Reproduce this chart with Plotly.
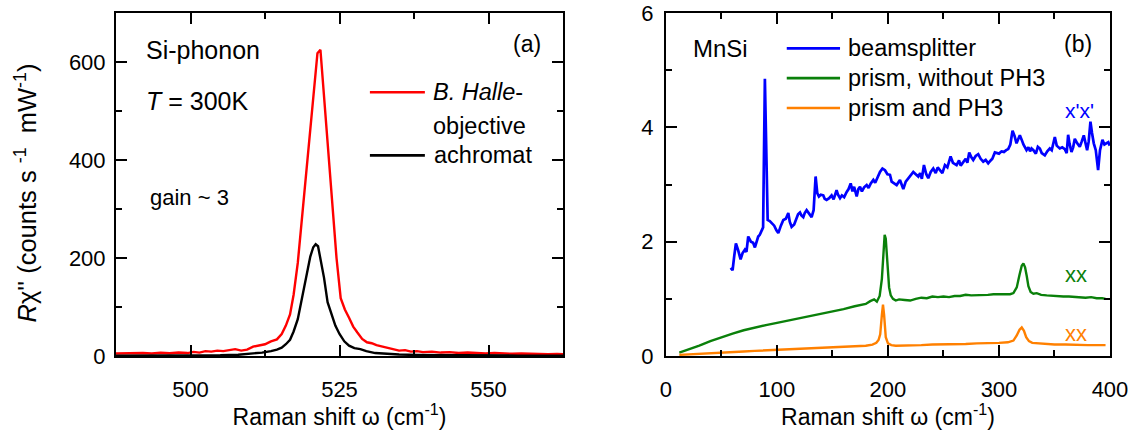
import plotly.graph_objects as go

# ---------------- Panel (a): Si phonon ----------------
halle_x = [487.5, 489, 490.5, 492, 493.5, 495, 496.5, 498, 499.5, 500.5, 501.5, 502.5, 503.5,
           504.5, 505.5, 506.5, 507.5, 508.5, 509.5, 510.5, 511.5, 512.5, 513.5, 514.5, 515.3,
           516, 516.7, 517.3, 518, 518.7, 519.4, 520.1, 520.8, 521.3, 521.8, 522.4, 523.1,
           523.8, 524.5, 525.2, 525.9, 526.6, 527.3, 528, 528.8, 529.6, 530.4, 531.2, 532, 533,
           534, 535, 536, 537, 538, 539, 540.5, 542, 543.5, 545, 546.5, 548, 549.5, 551, 552.5,
           554, 555.5, 557, 558.5, 560, 561.5, 562.5]
halle_y = [5, 5.5, 4.5, 6, 5, 6.5, 5.5, 7, 6, 8.5, 7, 10, 9,
           11, 10, 12, 14, 11, 13, 19, 21, 24, 30, 34, 45,
           62, 85, 125, 190, 280, 370, 460, 560, 618, 625, 530, 420,
           310, 200, 118, 95, 78, 60, 48, 35, 28, 26, 22, 20, 17,
           14, 11, 12, 9, 10, 8, 9, 7, 8, 6, 7, 6, 5, 6, 5,
           4.5, 5, 4, 4.5, 3.5, 4, 3.5]

achro_x = [487.5, 495, 500, 505, 508, 510, 512, 513.5, 514.5, 515.3, 516, 516.7, 517.3, 518,
           518.7, 519.4, 520.1, 520.6, 521, 521.4, 521.8, 522.4, 523, 523.6, 524.3, 525, 525.8,
           526.6, 527.5, 528.5, 529.5, 531, 533, 535, 538, 542, 548, 555, 562.5]
achro_y = [0.5, 0.5, 1, 1.5, 2.5, 4, 7, 10, 13, 17, 24, 33, 50, 75,
           118, 165, 203, 222, 228, 224, 200, 160, 110, 88, 62, 45, 30,
           21, 16, 14, 10, 6, 4, 3, 2, 1.5, 1, 0.8, 0.5]

# ---------------- Panel (b): MnSi ----------------
beam_x = [58.3, 60, 61.5, 63, 65, 67.2, 69, 71.1, 72.5, 74.1, 76.5, 78.5, 80.1, 82, 83.1, 84.5,
          86.1, 87.5, 89.1, 90.5, 91.6, 93.5, 95.2, 97.5, 99.5, 101.2, 103.5, 105.7, 108, 110.2,
          111.5, 113.2, 115.5, 117.7, 119, 120.7, 122, 123.7, 125, 126.7, 129, 131.2, 133, 134.8,
          136.3, 137.8, 139.5, 141.7, 143, 144.7, 147, 149.2, 151, 153.7, 155, 156.8, 158.5,
          160.5, 162.8, 164.5, 166.4, 168, 169.5, 171.8, 173.3, 174.8, 176.5, 178.5, 180.8,
          182.5, 184.5, 186.8, 188.5, 190.5, 192.8, 195, 197.3, 199.5, 201.8, 203.3, 205.5,
          207.8, 210.8, 212.5, 213.8, 216, 218.3, 220.5, 222.8, 225, 227.3, 229, 230.5, 232.4,
          234.5, 236.3, 238.5, 240.8, 243, 244.8, 246.8, 249, 251.3, 253.5, 256.4, 258.5, 261.8,
          264, 265.5, 267.8, 270, 271.5, 273.2, 275, 276.8, 279, 281.3, 283.5, 285.8, 288,
          290.3, 292.5, 294, 296.3, 298, 300, 302.3, 304.5, 306.5, 308.3, 310.2, 312.2, 314,
          315.8, 317, 318.8, 320.5, 322, 324.8, 326.5, 328, 329.3, 331, 333.2, 335, 336.8,
          338.5, 341.3, 343.5, 345.8, 347.5, 349, 350.3, 352, 354.8, 357, 359.3, 361, 362.3,
          363.5, 365.3, 366.8, 368.3, 370.5, 372.8, 374.5, 376.4, 378, 379.4, 380.8, 382.4,
          383.8, 385.4, 387.2, 389.3, 391, 393.2, 395, 396.8, 398.5, 399.8]
beam_y = [1.54, 1.50, 1.75, 1.97, 1.85, 1.69, 1.80, 1.86, 1.82, 2.09, 2.00, 1.98, 1.90, 2.02, 2.09, 2.12,
          2.20, 2.25, 4.85, 3.20, 2.38, 2.36, 2.32, 2.28, 2.20, 2.15, 2.28, 2.38, 2.40, 2.50,
          2.35, 2.26, 2.30, 2.43, 2.48, 2.51, 2.46, 2.43, 2.50, 2.55, 2.48, 2.43, 2.55, 3.14,
          2.85, 2.79, 2.82, 2.81, 2.75, 2.73, 2.76, 2.81, 2.74, 2.90, 2.82, 2.76, 2.81,
          2.78, 2.87, 2.92, 3.02, 2.88, 2.96, 2.79, 2.92, 2.96, 2.88, 2.95, 2.99,
          2.94, 3.02, 3.08, 3.03, 3.12, 3.22, 3.28, 3.25, 3.18, 3.17, 3.05, 3.02,
          2.99, 3.08, 3.00, 2.92, 3.05, 3.11, 3.15, 3.22, 3.18, 3.14, 3.20, 3.10, 3.34,
          3.18, 3.11, 3.22, 3.28, 3.20, 3.30, 3.25, 3.20, 3.34, 3.30, 3.49, 3.38, 3.34,
          3.42, 3.33, 3.40, 3.45, 3.38, 3.56, 3.48, 3.43, 3.50, 3.53, 3.45, 3.40, 3.43,
          3.37, 3.42, 3.45, 3.56, 3.55, 3.54, 3.58, 3.57, 3.60, 3.62, 3.70, 3.94, 3.85,
          3.72, 3.78, 3.86, 3.78, 3.70, 3.60, 3.65, 3.58, 3.63, 3.60, 3.54, 3.66, 3.63,
          3.55, 3.51, 3.58, 3.63, 3.60, 3.70, 3.83, 3.68, 3.63, 3.65, 3.62, 3.55, 3.87,
          3.72, 3.57, 3.65, 3.80, 3.72, 3.66, 3.75, 3.86, 3.72, 3.60, 3.75, 4.10,
          3.90, 3.72, 3.60, 3.25, 3.60, 3.78, 3.70, 3.72, 3.74, 3.68]

prism_x = [12, 20, 30, 40, 50, 60, 70, 80, 90, 100, 110, 120, 130, 140, 150, 160, 170, 176, 180,
           184, 187.5, 190, 192.5, 194.5, 196, 197, 198, 199.5, 201, 202.5, 204.5, 207, 210, 215,
           220, 225, 230, 235, 240, 245, 250, 255, 260, 265, 270, 275, 280, 285, 290, 295, 300,
           305, 310, 313, 316, 318.5, 320.5, 322, 323.5, 325, 326.5, 328.5, 331, 334, 338, 343,
           348, 353, 358, 363, 368, 373, 378, 383, 388, 393, 396]
prism_y = [0.06, 0.11, 0.18, 0.26, 0.33, 0.39, 0.45, 0.50, 0.54, 0.58, 0.62, 0.66, 0.70, 0.74,
           0.77, 0.82, 0.87, 0.90, 0.91, 0.96, 0.99, 0.95, 1.05, 1.35, 1.90, 2.12, 2.05, 1.55,
           1.20, 1.06, 1.00, 0.97, 0.99, 0.98, 0.97, 1.00, 1.02, 1.01, 1.04, 1.03, 1.04, 1.03,
           1.05, 1.05, 1.07, 1.06, 1.06, 1.07, 1.07, 1.08, 1.08, 1.07, 1.08, 1.10, 1.20, 1.42,
           1.58, 1.62, 1.55, 1.40, 1.22, 1.12, 1.09, 1.10, 1.07, 1.06, 1.05, 1.05, 1.04, 1.04,
           1.03, 1.03, 1.02, 1.03, 1.01, 1.01, 1.00]

ph3_x = [12, 20, 30, 40, 50, 60, 70, 80, 90, 100, 110, 120, 130, 140, 150, 160, 170, 180, 186,
         189.5, 191.5, 193, 194.5, 195.5, 196.5, 198, 200, 203, 207, 212, 220, 230, 240, 250,
         260, 270, 280, 290, 300, 308, 313, 316, 318.5, 320.5, 322.5, 324.5, 327, 330, 335,
         340, 350, 360, 370, 380, 390, 396]
ph3_y = [0.02, 0.03, 0.04, 0.05, 0.06, 0.07, 0.08, 0.09, 0.10, 0.11, 0.12, 0.13, 0.14, 0.15,
         0.15, 0.16, 0.17, 0.18, 0.20, 0.23, 0.28, 0.38, 0.72, 0.90, 0.72, 0.33, 0.22, 0.19,
         0.18, 0.18, 0.19, 0.19, 0.20, 0.20, 0.21, 0.21, 0.22, 0.22, 0.23, 0.24, 0.27, 0.36,
         0.46, 0.50, 0.44, 0.33, 0.26, 0.23, 0.22, 0.21, 0.20, 0.20, 0.19, 0.19, 0.19, 0.19]

ticks_a_x = [500, 525, 550]
ticks_a_y = [0, 200, 400, 600]
ticks_b_x = [0, 100, 200, 300, 400]
ticks_b_y = [0, 2, 4, 6]

FONT = "Liberation Sans, Arial, sans-serif"
RED, BLACK, BLUE, GREEN, ORANGE = "#ff0000", "#000000", "#0000ff", "#0a800a", "#ff8000"
NB = "\u00a0"

fig = go.Figure()
fig.add_trace(go.Scatter(x=halle_x, y=halle_y, mode="lines", line=dict(color=RED, width=2.4),
                         xaxis="x", yaxis="y", showlegend=False))
fig.add_trace(go.Scatter(x=achro_x, y=achro_y, mode="lines", line=dict(color=BLACK, width=2.4),
                         xaxis="x", yaxis="y", showlegend=False))
fig.add_trace(go.Scatter(x=beam_x, y=beam_y, mode="lines", line=dict(color=BLUE, width=2.7),
                         xaxis="x2", yaxis="y2", showlegend=False))
fig.add_trace(go.Scatter(x=prism_x, y=prism_y, mode="lines", line=dict(color=GREEN, width=2.4),
                         xaxis="x2", yaxis="y2", showlegend=False))
fig.add_trace(go.Scatter(x=ph3_x, y=ph3_y, mode="lines", line=dict(color=ORANGE, width=2.4),
                         xaxis="x2", yaxis="y2", showlegend=False))

axis_common = dict(showline=True, linecolor="black", linewidth=2, mirror="allticks",
                   ticks="inside", ticklen=11, tickwidth=2, tickcolor="black",
                   showgrid=False, zeroline=False, automargin=False,
                   ticklabeloverflow="allow",
                   tickfont=dict(family=FONT, size=22, color="black"))
minor_common = dict(ticks="inside", ticklen=6, tickwidth=2, tickcolor="black")
title_font = dict(family=FONT, size=23, color="black")

fig.update_layout(
    width=1142, height=430,
    margin=dict(l=116, r=32, t=12.5, b=74),
    paper_bgcolor="white", plot_bgcolor="white",
    font=dict(family=FONT, color="black"),
    xaxis=dict(domain=[0, 0.4497], range=[487.5, 562.5], tickvals=ticks_a_x,
               minor=dict(dtick=12.5, tick0=487.5, **minor_common),
               ticklabelstandoff=13,
               title=dict(text="Raman shift ω (cm<sup>-1</sup>)", font=title_font, standoff=4),
               anchor="y", **axis_common),
    yaxis=dict(domain=[0, 1], range=[0, 700.01], tickvals=ticks_a_y,
               minor=dict(dtick=100, **minor_common),
               ticklabelstandoff=4,
               anchor="x", **axis_common),
    xaxis2=dict(domain=[0.5533, 1], range=[0, 400.01], tickvals=ticks_b_x,
                minor=dict(dtick=50, **minor_common),
                ticklabelstandoff=13,
                title=dict(text="Raman shift ω (cm<sup>-1</sup>)", font=title_font, standoff=4),
                anchor="y2", **axis_common),
    yaxis2=dict(domain=[0, 1], range=[0, 6.0001], tickvals=ticks_b_y,
                minor=dict(dtick=1, **minor_common),
                ticklabelstandoff=6,
                anchor="x2", **axis_common),
)

def note(text, x, y, xref, yref, size=22, color="black", xanchor="left", angle=0):
    fig.add_annotation(text=text, x=x, y=y, xref=xref, yref=yref, showarrow=False,
                       xanchor=xanchor, yanchor="middle", textangle=angle,
                       font=dict(family=FONT, size=size, color=color))

def sample(x0, x1, y, xref, yref, color):
    fig.add_shape(type="line", x0=x0, x1=x1, y0=y, y1=y, xref=xref, yref=yref,
                  line=dict(color=color, width=2.6))

# panel (a) texts
A = ("x domain", "y domain")
note("<i>R</i>χ''" + NB + "(counts" + NB + "s" + NB + "<sup>-1</sup>" + NB * 2 + "mW<sup>-1</sup>)",
     -0.2013, 0.474, *A, size=25.5, xanchor="center", angle=-90)
note("Si-phonon", 0.062, 0.891, *A, size=25)
note("<i>T</i> = 300K", 0.062, 0.743, *A, size=25)
note("gain ~ 3", 0.072, 0.461, *A, size=22)
note("(a)", 0.919, 0.909, *A, size=23, xanchor="center")
sample(0.568, 0.691, 0.769, *A, RED)
note("<i>B. Halle</i>-", 0.705, 0.769, *A, size=23.5)
note("objective", 0.705, 0.670, *A, size=23.5)
sample(0.568, 0.691, 0.585, *A, BLACK)
note("achromat", 0.708, 0.585, *A, size=23.5)

# panel (b) texts
B = ("x2 domain", "y2 domain")
note("MnSi", 0.056, 0.897, *B, size=24)
note("(b)", 0.929, 0.911, *B, size=23, xanchor="center")
sample(0.272, 0.392, 0.897, *B, BLUE)
note("beamsplitter", 0.405, 0.897, *B, size=23.5)
sample(0.272, 0.392, 0.810, *B, GREEN)
note("prism, without PH3", 0.405, 0.810, *B, size=23.5)
sample(0.272, 0.392, 0.723, *B, ORANGE)
note("prism and PH3", 0.405, 0.723, *B, size=23.5)
note("x'x'", 0.932, 0.716, *B, size=21, color=BLUE, xanchor="center")
note("xx", 0.923, 0.237, *B, size=22, color=GREEN, xanchor="center")
note("xx", 0.923, 0.067, *B, size=22, color=ORANGE, xanchor="center")

# remove the default page margin so the figure fills the 1142x430 window exactly
fig.write_html("out.html",
               config={"displayModeBar": False},
               post_script="document.body.style.margin='0px';document.body.style.overflow='hidden';")
